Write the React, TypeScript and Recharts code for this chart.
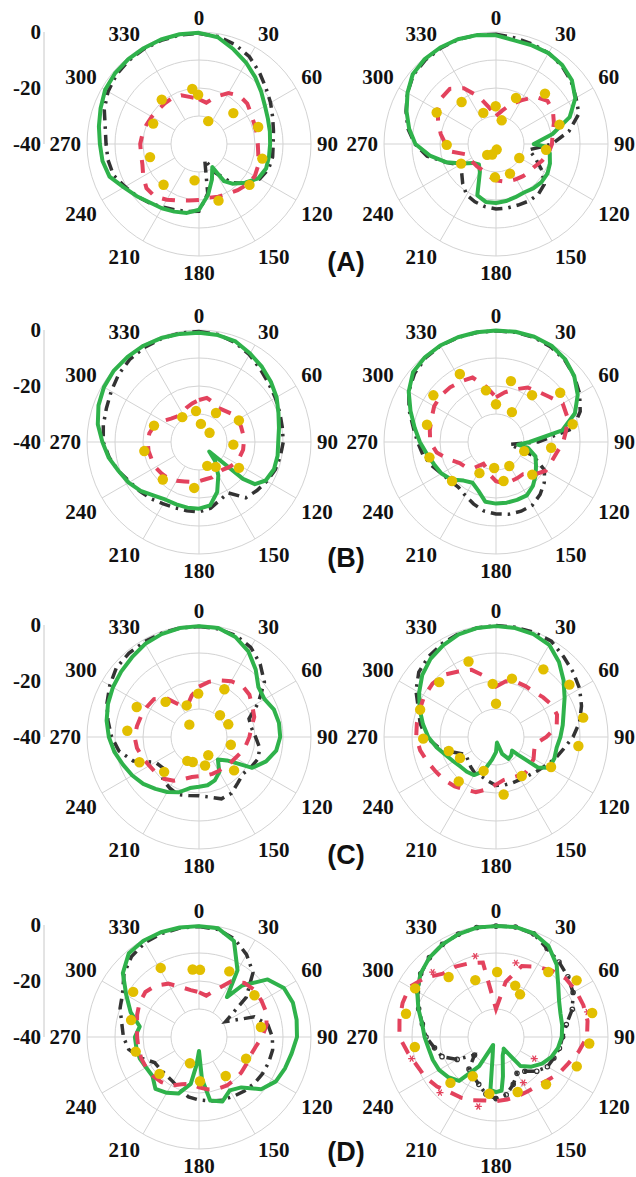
import React from "react";
import {
  RadarChart,
  Radar,
  PolarGrid,
  PolarAngleAxis,
  PolarRadiusAxis,
  LineChart,
  YAxis,
} from "recharts";

// angle grid (deg, clockwise from top) shared by the line series
const THETA = [
  0, 10, 20, 30, 40, 50, 60, 70, 80, 90, 100, 110, 120, 130, 140, 150, 160, 170,
  180, 190, 200, 210, 220, 230, 240, 250, 260, 270, 280, 290, 300, 310, 320, 330, 340, 350,
];
const ANGLE_TICKS = [0, 30, 60, 90, 120, 150, 180, 210, 240, 270, 300, 330];
const RADIAL_TICKS = [0, -20, -40];
const GRID_LEVELS = [-30, -20, -10, 0];
const ROW_LABELS = ["(A)", "(B)", "(C)", "(D)"];

// ---- row A ----
const A1_GREEN = [-0.3, -1.3, -4, -6.4, -8.8, -11, -12.8, -13.8, -14.3, -14.6, -14.6, -14.5, -15.5, -18.5, -21.5, -30.5, -26.5, -21.5, -16.5, -15, -14.3, -13.5, -12.7, -11, -9, -6, -5, -4.6, -3.7, -2.6, -1.3, -0.8, -0.6, -0.5, -0.3, -0.2];
const A1_GREEN_EXTRA = [[146, -24], [148, -28]];
const A1_BLACK = [-0.5, -1, -2.2, -4, -6.5, -8.8, -10.5, -12, -13, -13.5, -13.3, -13.6, -15, -18, -22, -28, -34, -22, -16, -15.5, -15, -14, -12.5, -11, -9.5, -7.5, -7, -6.8, -6, -4, -2.5, -1.5, -1, -0.8, -0.6, -0.5];
const A1_RED = [-24, -25, -22, -19, -17.5, -17.5, -18.5, -19, -19, -19, -18.5, -17.5, -17, -17.5, -18.5, -19.5, -20, -20.5, -20, -19.5, -18.5, -17, -15.5, -15.5, -17, -18.5, -19, -19, -19.5, -20, -20.5, -21, -21, -21, -21.5, -23];
const A1_YELLOW = [[353, -20.2], [359, -22.4], [320, -19.3], [294, -22.1], [22, -31.2], [48, -23.5], [74, -18], [103, -16.8], [129, -16.8], [161, -18.6], [187, -26.9], [221, -20.7], [255, -21.9]];

const A2_GREEN = [-1.2, -2.4, -2.5, -2.5, -3.2, -4.6, -7.3, -12, -19.5, -26.5, -20.5, -19.5, -18.8, -18.8, -19.3, -20, -19.8, -19.3, -18.9, -19, -20.5, -28.5, -30.5, -29.5, -26, -21, -16, -11.2, -8.5, -6, -3.5, -1.2, -0.4, -0.2, -0.2, -0.5];
const A2_GREEN_EXTRA = [[93, -22]];
const A2_BLACK = [-0.8, -1.5, -2, -2.5, -3.5, -5, -7, -8.5, -13.5, -20, -28, -25, -21, -17.5, -16.5, -16.5, -16.8, -16.8, -16.8, -17.3, -18, -19, -21.5, -24, -25, -21, -15, -11, -8, -5.8, -3.5, -1.5, -0.8, -0.5, -0.3, -0.5];
const A2_RED = [-30, -28, -25, -22, -18, -16, -16.5, -18, -19.5, -20, -21, -22.5, -24, -24.5, -25, -25.5, -26, -26.5, -27, -28, -29, -29.5, -29.5, -29.5, -29, -29, -24, -22, -20, -18, -16, -14.5, -14.3, -17, -22, -27];
const A2_YELLOW = [[298, -16], [320.7, -20.6], [269, -22.4], [240.7, -25.7], [337.8, -28], [359.5, -26.5], [13.5, -31.3], [23.5, -22.1], [44.2, -14.9], [73, -16.3], [96.5, -22], [121, -30.3], [154.7, -28.3], [181.7, -28.1], [219, -35], [200, -36], [173, -38]];

// ---- row B ----
const B1_GREEN = [-1, -1.2, -1.8, -3.5, -5, -6.5, -8, -9.8, -11, -11.7, -11.5, -11.5, -12.5, -19.5, -31, -26.2, -21, -17, -16.2, -16.2, -16.3, -16.2, -15, -12.8, -11, -9.5, -7.3, -5.5, -3.3, -1.8, -0.8, -0.3, -0.3, -0.3, -0.5, -0.8];
const B1_GREEN_EXTRA = [[127, -15], [133, -35]];
const B1_BLACK = [-0.5, -1, -2.2, -4, -6, -7.5, -8.5, -9.3, -9.8, -9.9, -10.5, -11, -12, -13, -14, -19, -18, -16, -15, -15.1, -15, -14.5, -13.5, -12.5, -11.5, -9.5, -7.5, -5.8, -5.3, -4.8, -3.8, -2.5, -1.5, -1, -0.7, -0.5];
const B1_RED = [-25, -24, -25, -26, -25.5, -24.5, -24, -24, -24, -24, -24, -24.5, -25, -26, -27, -27, -26.5, -26.5, -26, -25.5, -25, -24, -23, -22.5, -22, -22, -21.7, -21.7, -22, -23, -25, -27, -28, -28, -27, -26];
const B1_YELLOW = [[290, -22.9], [260.6, -20.2], [224, -21.4], [186, -23.5], [161, -31], [146, -29.3], [123, -23], [94.4, -27.7], [61.6, -23.8], [30.4, -28], [49, -35], [6, -33.5], [354.5, -28.9], [326, -29.3]];

const B2_GREEN = [-0.2, 0, 0, -0.3, -1.5, -3.5, -6.3, -10, -16, -28, -28.5, -25, -23.5, -21.5, -19.5, -18, -18, -18, -18, -18.3, -21.5, -23.2, -22, -19.2, -17.5, -16.5, -15, -12.8, -10.5, -7.5, -4, -1.3, -0.5, -0.2, -0.2, -0.2];
const B2_GREEN_EXTRA = [[97, -32]];
const B2_BLACK = [-0.3, -0.2, -0.3, -0.8, -1.8, -3.5, -5.5, -8, -12, -25, -35, -26, -20, -17.5, -15.5, -14, -13.7, -13.8, -14.3, -15, -16.5, -18, -19, -18.5, -17.5, -15.5, -13.5, -12, -10, -7, -4, -2, -0.8, -0.3, -0.3, -0.3];
const B2_RED = [-24, -22, -20, -17.5, -16.5, -15, -12.5, -13, -14.5, -16, -18, -19, -19.5, -22, -25, -25, -25, -25, -26, -28, -30, -31, -28, -26, -25, -22, -18.5, -16.5, -16, -15.5, -14.5, -14.2, -14.5, -15, -15.5, -20];
const B2_YELLOW = [[332, -12.5], [306.7, -12.1], [349, -21.2], [13.8, -17.6], [0, -26.5], [28, -27.9], [37.6, -18.9], [52.5, -11.1], [77, -11.9], [96, -20.2], [108, -29.4], [132, -22.6], [151, -30.2], [169, -25.8], [184, -30.7], [208, -27.4], [228.4, -19], [257, -15.6], [284, -14.6]];

// ---- row C ----
const C1_GREEN = [-0.4, -0.5, -2, -4.7, -8.5, -12.3, -13, -11.5, -11, -11, -12, -14.5, -18, -27, -29.5, -25.5, -23.5, -22.5, -22.2, -21.5, -19, -17.3, -15.8, -14, -12.5, -11.1, -9.3, -7.8, -6.5, -5.4, -4.5, -3.7, -2.8, -1.6, -0.9, -0.5];
const C1_BLACK = [-0.5, -0.8, -1.4, -3, -6, -9.5, -15.5, -21, -21, -19.8, -18, -17.5, -18.5, -19.5, -18.5, -16.8, -16.5, -18.2, -19, -18.8, -18.1, -19, -20, -23, -22, -15, -11, -8.8, -7, -5, -3.2, -1.5, -1, -0.8, -0.6, -0.5];
const C1_RED = [-22, -20, -18.5, -17, -16, -16.5, -18, -19, -21, -22, -23, -24, -25, -25.5, -26, -26, -26, -26, -26, -25.5, -24, -22, -20.5, -20, -19.5, -18.5, -17.5, -17, -17.5, -18, -18.5, -19, -22, -27, -28, -25];
const C1_YELLOW = [[295.7, -15.3], [275, -14.3], [247, -16.9], [225, -22.4], [316.4, -22.7], [338.7, -27.9], [359, -24.5], [322, -34.4], [28, -20.7], [44, -29.2], [66.6, -28.6], [103.6, -28.3], [153, -32.7], [168, -29.6], [194, -30.8], [206, -30.5], [133.6, -22.7]];

const C2_GREEN = [-0.4, -0.5, -0.9, -2, -5, -8.5, -11.7, -14.3, -15.8, -17, -18, -17.8, -18, -32.5, -31.5, -31, -33.6, -38, -34.6, -31.8, -27, -24.3, -23.8, -23.5, -22.5, -21, -18.5, -15.8, -13.5, -11, -8.3, -5.6, -3.6, -2.2, -1, -0.5];
const C2_GREEN_EXTRA = [[126, -21.5], [129, -30]];
const C2_BLACK = [-0.2, -0.2, -0.2, -0.5, -2.5, -4, -5.5, -7.5, -9.7, -12.5, -15.5, -17.5, -19.5, -21, -22, -22.5, -22.6, -22.6, -22.7, -24, -25, -25, -26, -27, -27.5, -24, -19, -15, -12.5, -10.5, -7, -4, -2.5, -1.5, -0.8, -0.5];
const C2_RED = [-22, -19.8, -19, -19, -18.9, -18, -17, -16.8, -18, -22, -25.8, -25.5, -24.5, -24, -23.5, -24, -24.5, -24.4, -23, -21, -19, -18.3, -17, -16, -15.2, -14, -12.5, -11.5, -11.3, -11, -10.5, -10.4, -11, -13, -14.5, -18];
const C2_YELLOW = [[340, -11.3], [314, -11.8], [289.8, -11.2], [268.7, -14], [253.5, -22.4], [239.7, -25.1], [220, -19.3], [200, -27.1], [172.4, -19.3], [146.6, -23.3], [118.6, -17.6], [96.2, -10.4], [77.5, -8.1], [54.5, -7.8], [35, -10.5], [15.3, -18.4], [356.4, -21], [0, -28.1]];

// ---- row D ----
const D1_GREEN = [-0.4, -0.6, -3.5, -12.5, -16, -8, -5, -4.3, -4.6, -5, -6.4, -7.3, -8.3, -11, -16.5, -18, -15.5, -17, -35, -23, -18.5, -17, -15.8, -18.3, -18.2, -17.5, -17.3, -17.1, -18.5, -14, -10, -4.5, -1, -0.3, -0.2, -0.3];
const D1_GREEN_EXTRA = [[35, -22.6], [176, -25], [185, -30]];
const D1_BLACK = [-0.5, -1, -2.8, -6, -10, -18, -29, -19, -15, -13.8, -13.3, -13.5, -13.8, -14.2, -14.8, -15.5, -16, -16.8, -17.5, -18.3, -20, -21.5, -22, -22, -21.7, -18, -14.5, -13, -12, -10, -8.5, -5, -2.5, -1.2, -0.7, -0.5];
const D1_RED = [-24, -25, -22, -17, -14.8, -14, -14.2, -14.4, -15.5, -17.5, -19.5, -20.5, -20.5, -20.3, -20.1, -20, -20.3, -21, -22, -23, -22, -20, -19, -18.5, -18.2, -18, -18, -17.9, -17.5, -16.5, -15.5, -15, -16, -18, -21, -23];
const D1_YELLOW = [[331, -11.8], [304.4, -11.5], [284, -15], [257, -16.8], [227, -20.7], [199, -30.1], [178.7, -24.2], [145.6, -23.1], [114.7, -21.5], [80.8, -17.6], [53, -15.2], [24.8, -14.2], [354.6, -15.8], [0.9, -16]];

const D2_GREEN = [-0.4, -0.1, -0.6, -2.5, -6.3, -11, -14, -15.5, -16, -16.5, -17.5, -19, -21, -23.5, -26.5, -34.5, -33, -25.7, -20.3, -33, -37, -28, -19.5, -17.7, -16.5, -16, -15.6, -14.5, -13.2, -10.5, -7.5, -4.8, -3, -1.8, -0.9, -0.3];
const D2_GREEN_EXTRA = [[147, -35], [174, -20.8], [186, -21], [205, -35]];
const D2_BLACK = [-0.4, -0.1, -0.8, -3.5, -5, -6.5, -8.2, -11, -14.5, -16.2, -17, -18, -18.8, -21, -24, -25, -22, -19, -18, -19.3, -22, -23.8, -25, -30, -24, -19.5, -17.7, -15, -13.3, -10.6, -7.6, -4.9, -3, -1.8, -0.9, -0.3];
const D2_RED = [-30, -20, -13, -11, -9, -7.5, -7, -6.8, -6.8, -7.5, -10, -12.5, -14, -16, -17.2, -17.5, -17.5, -17.3, -17.1, -17, -16, -15, -14.3, -12.5, -11, -10, -8, -5.5, -5, -4.5, -4.3, -7, -10.5, -11, -12, -13];
const D2_RED_STARS = [[345.6, -10.2], [15, -12.6], [315.7, -7.6], [74.7, -6.1], [255.6, -8.9], [225.2, -11.8], [194.3, -14.4], [149, -21], [119.5, -24.3]];
const D2_YELLOW = [[321.7, -12.7], [340, -18.4], [1, -16.8], [20.5, -20.4], [29.4, -22.5], [38.8, -10.2], [54.9, -4.8], [76, -4.6], [94, -6.6], [110, -9.3], [133.4, -15.4], [158.5, -18.9], [186.7, -19.6], [210.7, -23.7], [224.8, -16.9], [263, -10.8], [284.5, -6.8], [301, -6.3]];

// layout
const SIZE = 300;
const R = 112;
const COL_X = [199, 496];
const ROW_Y = [144, 442, 737, 1037];
const LABEL_Y = [262, 558, 855, 1152];
const NO_MARGIN = { top: 0, right: 0, bottom: 0, left: 0 };

const GREEN = "#2fb24b";
const BLACK = "#333333";
const RED = "#e3425d";
const YELLOW = "#e2bf00";
const GRID = "#d3d3d3";
const SERIF = '"Liberation Serif", "Times New Roman", serif';

const toRows = (values: number[], extra: number[][] = []) =>
  THETA.map((angle, i) => ({ angle, v: values[i] }))
    .concat(extra.map(([angle, v]) => ({ angle, v })))
    .sort((p, q) => p.angle - q.angle);

const toDots = (pairs: number[][]) =>
  pairs.map(([angle, v]) => ({ angle, v })).sort((p, q) => p.angle - q.angle);

const PANELS = [
  { green: toRows(A1_GREEN, A1_GREEN_EXTRA), black: toRows(A1_BLACK), red: toRows(A1_RED), yellow: toDots(A1_YELLOW) },
  { green: toRows(A2_GREEN, A2_GREEN_EXTRA), black: toRows(A2_BLACK), red: toRows(A2_RED), yellow: toDots(A2_YELLOW) },
  { green: toRows(B1_GREEN, B1_GREEN_EXTRA), black: toRows(B1_BLACK), red: toRows(B1_RED), yellow: toDots(B1_YELLOW) },
  { green: toRows(B2_GREEN, B2_GREEN_EXTRA), black: toRows(B2_BLACK), red: toRows(B2_RED), yellow: toDots(B2_YELLOW) },
  { green: toRows(C1_GREEN), black: toRows(C1_BLACK), red: toRows(C1_RED), yellow: toDots(C1_YELLOW) },
  { green: toRows(C2_GREEN, C2_GREEN_EXTRA), black: toRows(C2_BLACK), red: toRows(C2_RED), yellow: toDots(C2_YELLOW) },
  { green: toRows(D1_GREEN, D1_GREEN_EXTRA), black: toRows(D1_BLACK), red: toRows(D1_RED), yellow: toDots(D1_YELLOW) },
  {
    green: toRows(D2_GREEN, D2_GREEN_EXTRA),
    black: toRows(D2_BLACK),
    red: toRows(D2_RED),
    yellow: toDots(D2_YELLOW),
    stars: toDots(D2_RED_STARS),
    markers: true,
  },
];

// grid layer: 0 dB on the rim, -30 dB on the inner ring where the spokes stop
const GRID_ROWS = ANGLE_TICKS.map((a) => ({ label: String(a) }));
const gridRadius = (level: number) => R / 4 + ((level + 30) / 30) * (R - R / 4);

function AngleTick(props: any) {
  const { x, y, payload } = props;
  const a = (payload.coordinate * Math.PI) / 180;
  const c = Math.cos(a);
  const s = Math.sin(a);
  const anchor = c > 0.01 ? "start" : c < -0.01 ? "end" : "middle";
  const dy = s > 0.01 ? -1 : s < -0.01 ? 18 : 7;
  return (
    <text
      x={x - 2 * c}
      y={y + 2 * s + dy}
      textAnchor={anchor}
      fontFamily={SERIF}
      fontWeight="bold"
      fontSize={21}
      fill="#111"
    >
      {payload.value}
    </text>
  );
}

function ScaleTick(props: any) {
  const { x, y, payload } = props;
  return (
    <text x={x} y={y + 7} textAnchor="end" fontFamily={SERIF} fontWeight="bold" fontSize={21} fill="#111">
      {payload.value}
    </text>
  );
}

// small asterisk marker used on the red trace of the last panel
function StarDot(props: any) {
  const { cx, cy } = props;
  if (cx == null || cy == null) return null;
  const k = 3;
  return (
    <g stroke={RED} strokeWidth={1.3} strokeLinecap="round">
      <line x1={cx - k} y1={cy} x2={cx + k} y2={cy} />
      <line x1={cx - k / 2} y1={cy - k * 0.87} x2={cx + k / 2} y2={cy + k * 0.87} />
      <line x1={cx - k / 2} y1={cy + k * 0.87} x2={cx + k / 2} y2={cy - k * 0.87} />
    </g>
  );
}

function GridLayer() {
  return (
    <div style={{ position: "absolute", left: 0, top: 0 }}>
      <RadarChart
        width={SIZE}
        height={SIZE}
        cx={SIZE / 2}
        cy={SIZE / 2}
        innerRadius={R / 4}
        outerRadius={R}
        data={GRID_ROWS}
        margin={NO_MARGIN}
      >
        <PolarGrid
          gridType="circle"
          stroke={GRID}
          strokeWidth={1}
          polarAngles={ANGLE_TICKS.map((a) => 90 - a)}
          polarRadius={GRID_LEVELS.map(gridRadius)}
        />
        <PolarAngleAxis
          dataKey="label"
          tick={(p: any) => <AngleTick {...p} />}
          tickLine={false}
          axisLine={false}
        />
      </RadarChart>
    </div>
  );
}

function SeriesLayer({ rows, children }: any) {
  return (
    <div style={{ position: "absolute", left: 0, top: 0 }}>
      <RadarChart
        width={SIZE}
        height={SIZE}
        cx={SIZE / 2}
        cy={SIZE / 2}
        outerRadius={R}
        data={rows}
        margin={NO_MARGIN}
      >
        <PolarAngleAxis dataKey="angle" type="number" domain={[0, 360]} tick={false} tickLine={false} axisLine={false} />
        <PolarRadiusAxis type="number" domain={[-40, 0]} tick={false} axisLine={false} />
        {children}
      </RadarChart>
    </div>
  );
}

function PolarPanel({ panel, cx, cy }: any) {
  return (
    <div style={{ position: "absolute", left: cx - SIZE / 2, top: cy - SIZE / 2, width: SIZE, height: SIZE }}>
      <GridLayer />
      <SeriesLayer rows={panel.black}>
        <Radar
          dataKey="v"
          stroke={BLACK}
          strokeWidth={3.5}
          strokeDasharray="11 6 2.5 6"
          fill="none"
          fillOpacity={0}
          dot={panel.markers ? { r: 2.2, fill: "#fff", stroke: BLACK, strokeWidth: 1.2, strokeDasharray: "none" } : false}
          isAnimationActive={false}
        />
      </SeriesLayer>
      <SeriesLayer rows={panel.green}>
        <Radar dataKey="v" stroke={GREEN} strokeWidth={4} strokeLinejoin="round" fill="none" fillOpacity={0} dot={false} isAnimationActive={false} />
      </SeriesLayer>
      <SeriesLayer rows={panel.red}>
        <Radar dataKey="v" stroke={RED} strokeWidth={4} strokeDasharray="13 11" fill="none" fillOpacity={0} dot={false} isAnimationActive={false} />
      </SeriesLayer>
      {panel.stars ? (
        <SeriesLayer rows={panel.stars}>
          <Radar
            dataKey="v"
            stroke="none"
            fill="none"
            fillOpacity={0}
            dot={(p: any) => <StarDot key={p.index} {...p} />}
            isAnimationActive={false}
          />
        </SeriesLayer>
      ) : null}
      <SeriesLayer rows={panel.yellow}>
        <Radar
          dataKey="v"
          stroke="none"
          fill="none"
          fillOpacity={0}
          dot={{ r: 5.2, fill: YELLOW, stroke: "none", fillOpacity: 1 }}
          isAnimationActive={false}
        />
      </SeriesLayer>
    </div>
  );
}

function RadialScale({ cy }: any) {
  return (
    <div style={{ position: "absolute", left: 0, top: cy - R - 12 }}>
      <LineChart width={60} height={R + 24} data={RADIAL_TICKS.map((v) => ({ v }))} margin={{ top: 12, bottom: 12, left: 0, right: 0 }}>
        <YAxis
          type="number"
          dataKey="v"
          domain={[-40, 0]}
          ticks={RADIAL_TICKS}
          interval={0}
          width={44}
          axisLine={{ stroke: "#c8c8c8" }}
          tickLine={false}
          tickSize={2}
          tickMargin={1}
          tick={(p: any) => <ScaleTick {...p} />}
        />
      </LineChart>
    </div>
  );
}

export default function App() {
  return (
    <div style={{ position: "absolute", left: 0, top: 0, width: 636, height: 1177, background: "#fff", overflow: "hidden" }}>
      {ROW_Y.map((cy, row) => (
        <React.Fragment key={row}>
          <RadialScale cy={cy} />
          <PolarPanel panel={PANELS[row * 2]} cx={COL_X[0]} cy={cy} />
          <PolarPanel panel={PANELS[row * 2 + 1]} cx={COL_X[1]} cy={cy} />
          <div
            style={{
              position: "absolute",
              left: 346,
              top: LABEL_Y[row],
              transform: "translate(-50%, -50%)",
              fontFamily: '"Liberation Sans", Arial, sans-serif',
              fontWeight: "bold",
              fontSize: 27,
              color: "#111",
              whiteSpace: "nowrap",
            }}
          >
            {ROW_LABELS[row]}
          </div>
        </React.Fragment>
      ))}
    </div>
  );
}
